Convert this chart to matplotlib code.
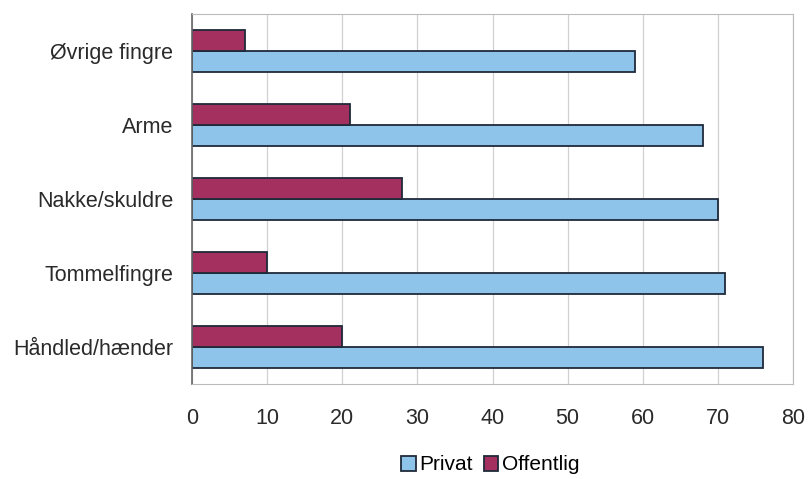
import numpy as np
import matplotlib.pyplot as plt

plt.rcParams['font.family'] = ['Liberation Sans', 'DejaVu Sans']

# data
categories = ['Håndled/hænder', 'Tommelfingre', 'Nakke/skuldre', 'Arme', 'Øvrige fingre']
privat = [76, 71, 70, 68, 59]
offentlig = [20, 10, 28, 21, 7]

blue = '#8EC4EA'
maroon = '#A3305F'
edge = '#1F2A3A'

fig = plt.figure(figsize=(8.08, 4.79), dpi=100)
ax = fig.add_axes([192 / 808, 1 - 384 / 479, (793 - 192) / 808, (384 - 14) / 479])

y = np.arange(len(categories))
h = 0.29
ax.barh(y - h / 2, privat, height=h, color=blue, edgecolor=edge, linewidth=1.3, label='Privat')
ax.barh(y + h / 2, offentlig, height=h, color=maroon, edgecolor=edge, linewidth=1.3, label='Offentlig')

ax.set_xlim(0, 80)
ax.set_ylim(-0.5, len(categories) - 0.5)
ax.set_xticks(range(0, 81, 10))
ax.set_yticks(y)
ax.set_yticklabels(categories)
ax.grid(axis='x', color='#D0D0D0', linewidth=0.9)
ax.set_axisbelow(True)

for side in ['top', 'right', 'bottom']:
    ax.spines[side].set_color('#BBBBBB')
ax.spines['left'].set_color('#666666')
ax.spines['left'].set_linewidth(1.2)

ax.tick_params(axis='x', length=0, pad=17, labelsize=15.5, colors='#2A2A2A')
ax.tick_params(axis='y', length=0, pad=13.5, labelsize=15.5, colors='#2A2A2A')

fig.legend(loc='center', bbox_to_anchor=(0.607, 1 - 465 / 479), ncol=2, frameon=False,
           fontsize=15, handlelength=0.7, handleheight=0.7, handletextpad=0.2,
           columnspacing=0.5)

fig.savefig('out.png', dpi=100, facecolor='white')
